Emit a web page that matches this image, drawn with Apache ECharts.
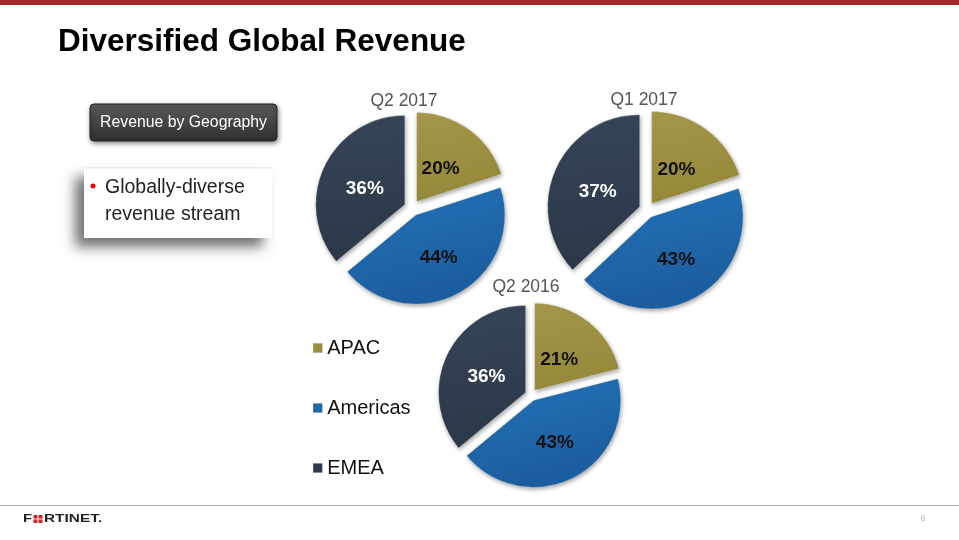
<!DOCTYPE html>
<html>
<head>
<meta charset="utf-8">
<script src="https://cdn.jsdelivr.net/npm/echarts@6/dist/echarts.min.js"></script>
<style>
html,body{margin:0;padding:0;background:#fff;}
#chart{width:959px;height:540px;}
</style>
</head>
<body>
<div id="chart"></div>
<script>
// ---- Data ----
var regions = ['APAC', 'Americas', 'EMEA'];
var periods = ['Q2 2017', 'Q1 2017', 'Q2 2016'];
var q2_2017 = [20, 44, 36];
var q1_2017 = [20, 43, 37];
var q2_2016 = [21, 43, 36];
var seriesValues = [q2_2017, q1_2017, q2_2016];

// ---- Styling ----
var FONT = '"Liberation Sans", Arial, Helvetica, sans-serif';
var regionGrad = {
  'APAC': ['#a5974a', '#968839'],
  'Americas': ['#2574bb', '#1b5e9f'],
  'EMEA': ['#364558', '#2b3848']
};
var regionSolid = { 'APAC': '#9b8d3c', 'Americas': '#1f68ab', 'EMEA': '#2e3b4c' };
var labelColor = { 'APAC': '#111', 'Americas': '#111', 'EMEA': '#fff' };
var labelNudge = { 'APAC': [-4, 6], 'Americas': [0, 1], 'EMEA': [3, 4] };
var layouts = [
  { center: [412, 208], radius: 89, offset: 8, title: [404, 101] },
  { center: [647, 210], radius: 92, offset: 8, title: [644, 100] },
  { center: [531, 395], radius: 87, offset: 6, title: [526, 287] }
];

function grad(name) {
  var c = regionGrad[name];
  return { type: 'linear', x: 0, y: 0, x2: 0.2, y2: 1,
    colorStops: [{ offset: 0, color: c[0] }, { offset: 1, color: c[1] }] };
}

var chart = echarts.init(document.getElementById('chart'), null, { renderer: 'canvas' });

var series = seriesValues.map(function (vals, i) {
  var L = layouts[i];
  return {
    type: 'pie',
    name: periods[i],
    center: L.center,
    radius: [0, L.radius],
    startAngle: 90,
    clockwise: true,
    selectedMode: 'multiple',
    selectedOffset: L.offset,
    silent: true,
    animation: false,
    emphasis: { disabled: true },
    labelLine: { show: false },
    label: {
      show: true,
      position: 'inner',
      formatter: '{c}%',
      fontFamily: FONT,
      fontSize: 19,
      fontWeight: 'bold'
    },
    data: regions.map(function (r, k) {
      var style = {
        color: grad(r),
        borderColor: 'rgba(255,255,255,0.2)',
        borderWidth: 1,
        shadowBlur: 4,
        shadowColor: 'rgba(0,0,0,0.35)',
        shadowOffsetX: 1,
        shadowOffsetY: 2
      };
      var lab = { color: labelColor[r], offset: labelNudge[r] };
      return {
        name: r,
        value: vals[k],
        selected: true,
        itemStyle: style,
        select: { itemStyle: style, label: lab },
        label: lab
      };
    })
  };
});

var titleTexts = periods.map(function (p, i) {
  return {
    type: 'text', x: layouts[i].title[0], y: layouts[i].title[1],
    style: { text: p, font: '17.5px ' + FONT, fill: '#555', textAlign: 'center', textVerticalAlign: 'middle' }
  };
});

var graphics = [
  // top red bar
  { type: 'rect', shape: { x: 0, y: 0, width: 959, height: 5 }, style: { fill: '#a4282b' } },
  // main title
  { type: 'text', x: 58, y: 42, style: { text: 'Diversified Global Revenue', font: 'bold 31.5px ' + FONT, fill: '#000', textVerticalAlign: 'middle' } },
  // Revenue by Geography box
  { type: 'rect', shape: { x: 90, y: 104, width: 187, height: 37, r: 4 },
    style: { fill: { type: 'linear', x: 0, y: 0, x2: 0, y2: 1, colorStops: [{ offset: 0, color: '#5c5c5c' }, { offset: 0.5, color: '#444' }, { offset: 1, color: '#303030' }] },
      stroke: '#222', lineWidth: 1, shadowBlur: 5, shadowColor: 'rgba(0,0,0,0.45)', shadowOffsetX: 1, shadowOffsetY: 2 } },
  { type: 'text', x: 183.5, y: 123, style: { text: 'Revenue by Geography', font: '15.8px ' + FONT, fill: '#fff', textAlign: 'center', textVerticalAlign: 'middle' } },
  // bullet box with shadow
  { type: 'rect', shape: { x: 84, y: 168, width: 188, height: 70 },
    style: { fill: '#fff', shadowBlur: 12, shadowColor: 'rgba(0,0,0,0.55)', shadowOffsetX: -9, shadowOffsetY: 9 } },
  { type: 'line', shape: { x1: 84, y1: 168, x2: 272, y2: 168 }, style: { stroke: '#e4e4e4', lineWidth: 1 } },
  { type: 'circle', shape: { cx: 93, cy: 186, r: 2.5 }, style: { fill: '#e00' } },
  { type: 'text', x: 105, y: 188, style: { text: 'Globally-diverse', font: '19.5px ' + FONT, fill: '#222', textVerticalAlign: 'middle' } },
  { type: 'text', x: 105, y: 215, style: { text: 'revenue stream', font: '19.5px ' + FONT, fill: '#222', textVerticalAlign: 'middle' } },
  // bottom rule
  { type: 'line', shape: { x1: 0, y1: 505.5, x2: 959, y2: 505.5 }, style: { stroke: '#aaa', lineWidth: 1 } },
  // logo
  { type: 'text', x: 23, y: 519, scaleX: 1.35, style: { text: 'F', font: 'bold 11px ' + FONT, fill: '#222', textVerticalAlign: 'middle' } },
  { type: 'rect', shape: { x: 33.5, y: 515, width: 4, height: 3.6 }, style: { fill: '#d0262b' } },
  { type: 'rect', shape: { x: 38.5, y: 515, width: 4, height: 3.6 }, style: { fill: '#d0262b' } },
  { type: 'rect', shape: { x: 33.5, y: 519.4, width: 4, height: 3.6 }, style: { fill: '#d0262b' } },
  { type: 'rect', shape: { x: 38.5, y: 519.4, width: 4, height: 3.6 }, style: { fill: '#d0262b' } },
  { type: 'text', x: 44, y: 519, scaleX: 1.4, style: { text: 'RTINET.', font: 'bold 11px ' + FONT, fill: '#222', textVerticalAlign: 'middle' } },
  // page number
  { type: 'text', x: 923, y: 519, style: { text: '6', font: '9px ' + FONT, fill: '#bbb', textAlign: 'center', textVerticalAlign: 'middle' } }
].concat(titleTexts);

var option = {
  backgroundColor: '#fff',
  animation: false,
  legend: {
    orient: 'vertical',
    left: 313,
    top: 338,
    padding: 0,
    itemWidth: 9,
    itemHeight: 9,
    itemGap: 40,
    icon: 'rect',
    selectedMode: false,
    textStyle: { fontFamily: FONT, fontSize: 20, color: '#111' },
    data: regions.map(function (r) {
      return { name: r, itemStyle: { color: regionSolid[r], borderColor: 'rgba(0,0,0,0.2)', borderWidth: 0.5 } };
    })
  },
  graphic: graphics,
  series: series
};

chart.setOption(option);
</script>
</body>
</html>
